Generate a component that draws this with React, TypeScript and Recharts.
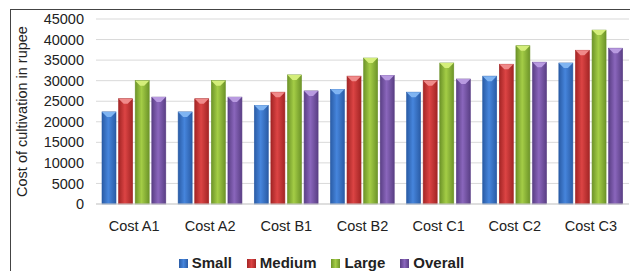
import { Bar, BarChart, CartesianGrid, Label, Legend, XAxis, YAxis } from "recharts";

const categories = ["Cost A1", "Cost A2", "Cost B1", "Cost B2", "Cost C1", "Cost C2", "Cost C3"];
const small = [22400, 22400, 24000, 27900, 27200, 31100, 34300];
const medium = [25600, 25600, 27200, 31100, 30000, 34000, 37400];
const large = [30000, 30000, 31400, 35500, 34300, 38500, 42300];
const overall = [26000, 26000, 27500, 31300, 30400, 34500, 37900];
const yTicks = [0, 5000, 10000, 15000, 20000, 25000, 30000, 35000, 40000, 45000];

const data = categories.map((name, i) => ({
  name,
  small: small[i],
  medium: medium[i],
  large: large[i],
  overall: overall[i],
}));

const SERIES = [
  { key: "small", label: "Small", mid: "#4685dc", edge: "#2a5ca6", top: "#7fb4f2" },
  { key: "medium", label: "Medium", mid: "#dc4444", edge: "#a32525", top: "#f08a8a" },
  { key: "large", label: "Large", mid: "#a4cd46", edge: "#6d9429", top: "#d4ee7a" },
  { key: "overall", label: "Overall", mid: "#8a66bc", edge: "#5a3f85", top: "#b89ae0" },
];

const FONT = "'Liberation Sans', Arial, sans-serif";

function BevelBar(props: any) {
  const { x, y, width, height, gid, top, edge } = props;
  if (!height || height <= 0) return null;
  const b = Math.min(5, width / 2);
  return (
    <g>
      <rect x={x} y={y} width={width} height={height} fill={`url(#${gid})`} stroke={edge} strokeWidth={0.6} />
      <path
        d={`M${x},${y} L${x + width},${y} L${x + width - b},${y + b} L${x + b},${y + b} Z`}
        fill={top}
      />
    </g>
  );
}

function LegendContent() {
  return (
    <div
      style={{
        display: "flex",
        justifyContent: "center",
        gap: 15,
        fontFamily: FONT,
        fontWeight: "bold",
        fontSize: 15,
        lineHeight: "16px",
        color: "#222",
        marginLeft: 14,
      }}
    >
      {SERIES.map((s) => (
        <div key={s.key} style={{ display: "flex", alignItems: "center", gap: 4 }}>
          <span
            style={{
              display: "inline-block",
              width: 9,
              height: 9,
              background: `linear-gradient(to right, ${s.edge}, ${s.mid}, ${s.edge})`,
            }}
          />
          <span>{s.label}</span>
        </div>
      ))}
    </div>
  );
}

export default function App() {
  return (
    <div
      style={{
        position: "fixed",
        left: 0,
        top: 0,
        width: 630,
        height: 271,
        overflow: "hidden",
        background: "#fff",
      }}
    >
      <div
        style={{
          position: "absolute",
          left: 10,
          top: 9,
          width: 620,
          height: 262,
          borderLeft: "1.5px solid #444",
          borderTop: "1.5px solid #444",
          boxSizing: "border-box",
        }}
      />
      <div style={{ position: "absolute", left: 0, top: 0 }}>
        <BarChart
          width={630}
          height={271}
          data={data}
          margin={{ top: 19, right: 1, bottom: 0, left: 0 }}
          barSize={14}
          barGap={2.6}
        >
          <defs>
            {SERIES.map((s) => (
              <linearGradient key={s.key} id={`g-${s.key}`} x1="0" y1="0" x2="1" y2="0">
                <stop offset="0%" stopColor={s.edge} />
                <stop offset="45%" stopColor={s.mid} />
                <stop offset="100%" stopColor={s.edge} />
              </linearGradient>
            ))}
          </defs>
          <CartesianGrid vertical={false} stroke="#d9d9d9" />
          <XAxis
            dataKey="name"
            height={51}
            tickLine={false}
            tickSize={0}
            tickMargin={17}
            axisLine={{ stroke: "#d0d0d0" }}
            tick={{ fill: "#222", fontSize: 14.5, fontFamily: FONT }}
          />
          <YAxis
            width={96}
            domain={[0, 45000]}
            ticks={yTicks}
            interval={0}
            axisLine={false}
            tickLine={false}
            tickMargin={6}
            tick={{ fill: "#222", fontSize: 14.5, fontFamily: FONT }}
          >
            <Label
              content={({ viewBox }: any) => {
                const cy = viewBox.y + viewBox.height / 2;
                return (
                  <text
                    x={22}
                    y={cy}
                    transform={`rotate(-90 22 ${cy})`}
                    textAnchor="middle"
                    dominantBaseline="central"
                    fill="#222"
                    fontSize={14.5}
                    fontFamily={FONT}
                  >
                    Cost of cultivation in rupee
                  </text>
                );
              }}
            />
          </YAxis>
          <Legend verticalAlign="bottom" height={16} content={<LegendContent />} />
          {SERIES.map((s) => (
            <Bar
              key={s.key}
              dataKey={s.key}
              name={s.label}
              fill={s.mid}
              isAnimationActive={false}
              shape={<BevelBar gid={`g-${s.key}`} top={s.top} edge={s.edge} />}
            />
          ))}
        </BarChart>
      </div>
    </div>
  );
}
